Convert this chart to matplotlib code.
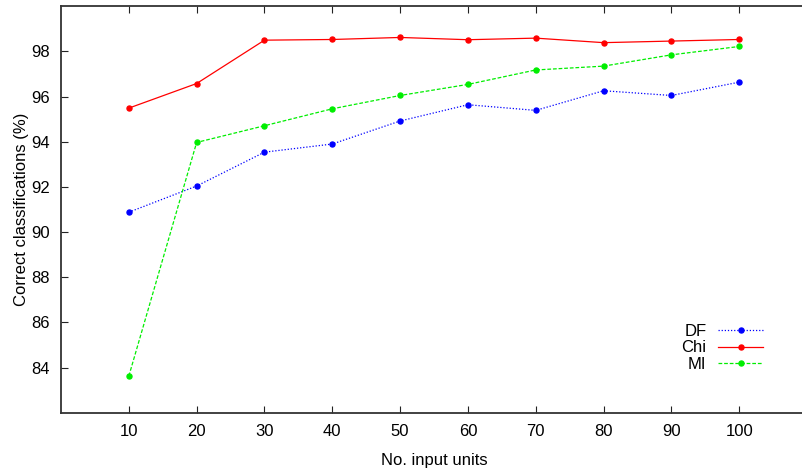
import matplotlib
matplotlib.use("Agg")
import matplotlib.pyplot as plt

plt.rcParams['font.family'] = ['Liberation Sans', 'DejaVu Sans']

units = [10, 20, 30, 40, 50, 60, 70, 80, 90, 100]
df_vals = [90.88, 92.04, 93.54, 93.90, 94.92, 95.64, 95.39, 96.26, 96.05, 96.64]
chi_vals = [95.49, 96.58, 98.50, 98.53, 98.62, 98.52, 98.59, 98.39, 98.46, 98.53]
mi_vals = [83.62, 93.97, 94.71, 95.46, 96.05, 96.54, 97.18, 97.35, 97.85, 98.22]
xticks = [10, 20, 30, 40, 50, 60, 70, 80, 90, 100]
yticks = [84, 86, 88, 90, 92, 94, 96, 98]

fig = plt.figure(figsize=(8.02, 4.71), dpi=100)
ax = fig.add_axes([61/802, (471-412.7)/471, (807-61)/802, (412.7-6.3)/471])

ms = 3.6
lw = 0.9
ax.plot(units, df_vals, color='#0000ff', linestyle=(0, (1, 1.5)), linewidth=lw,
        marker='o', markersize=ms, label='DF')
ax.plot(units, chi_vals, color='#ff0000', linestyle='-', linewidth=lw,
        marker='o', markersize=ms, label='Chi')
ax.plot(units, mi_vals, color='#00ee00', linestyle=(0, (3, 1.5)), linewidth=lw,
        marker='o', markersize=ms, label='MI')

ax.set_xlim(0, 110)
ax.set_ylim(82, 100)
ax.set_xticks(xticks)
ax.set_yticks(yticks)
ax.tick_params(axis='both', direction='in', length=5, width=0.8, labelsize=12,
               top=True, bottom=True, left=True, right=False, colors='#222222',
               labelcolor='black', pad=8)
for s in ax.spines.values():
    s.set_linewidth(1.3)
    s.set_color('#333333')

ax.set_xlabel('No. input units', fontsize=12, labelpad=10)
ax.set_ylabel('Correct classifications (%)', fontsize=12, labelpad=1.5)

leg = ax.legend(loc='center right', bbox_to_anchor=((763-61)/(807-61), (412.7-348)/(412.7-6.3)),
                markerfirst=False, frameon=False, fontsize=12, handlelength=2.7,
                handletextpad=0.7, labelspacing=0.1, borderpad=0, borderaxespad=0)
for t in leg.get_texts():
    t.set_ha('right')

fig.savefig('out.png', dpi=100)
